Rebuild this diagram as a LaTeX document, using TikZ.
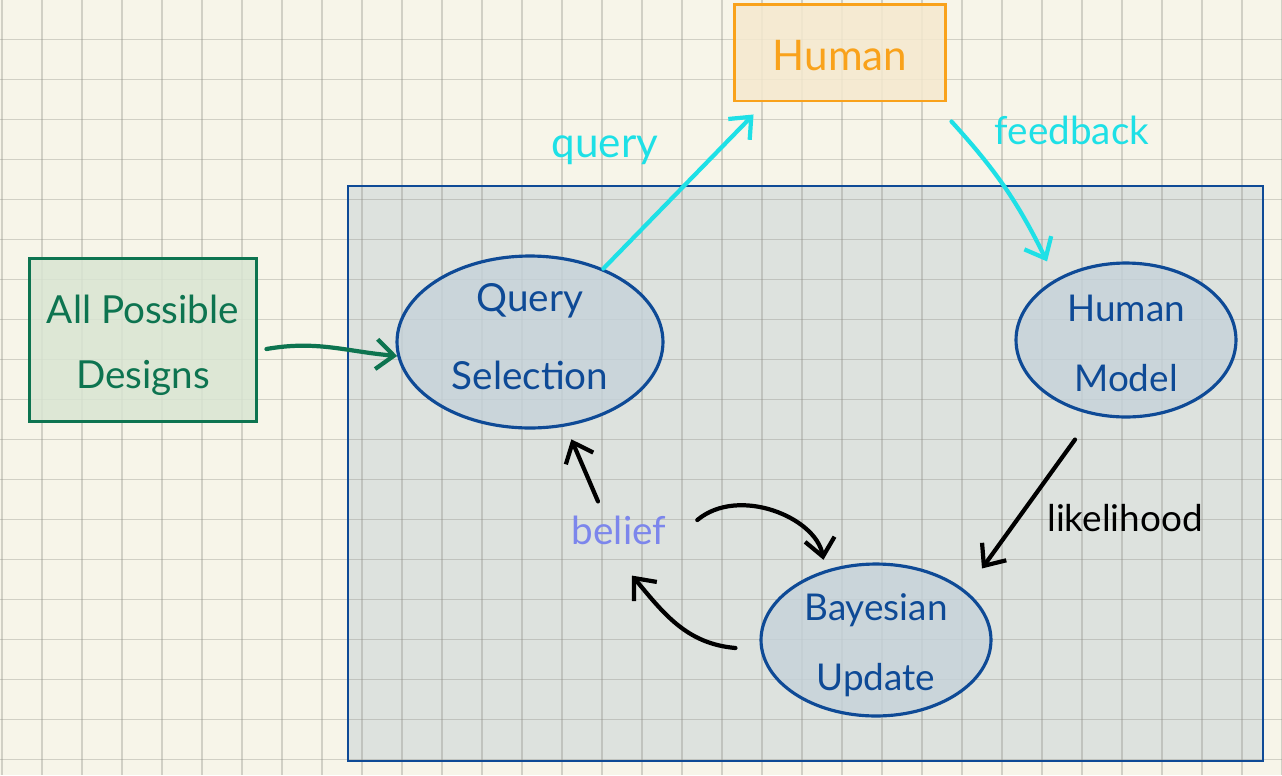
\documentclass[tikz,border=0pt]{standalone}
\usepackage{fontspec}
\setmainfont{Lato}
\usetikzlibrary{arrows.meta,shapes.geometric}
\pgfdeclarelayer{background}
\pgfsetlayers{background,main}
\definecolor{paper}{HTML}{F7F5E9}
\definecolor{gridgray}{HTML}{8C8C84}
\definecolor{panelfill}{HTML}{DDE2DE}
\definecolor{inkblue}{HTML}{0E4A96}
\definecolor{bubblefill}{HTML}{C6D2DA}
\definecolor{orangeink}{HTML}{F9A21B}
\definecolor{orangefill}{HTML}{F5E9CF}
\definecolor{greenink}{HTML}{0D7450}
\definecolor{greenfill}{HTML}{D9E5D2}
\definecolor{cyanink}{HTML}{1EE0E6}
\definecolor{beliefblue}{HTML}{7C86EC}
\tikzstyle{grid line}=[gridgray,line width=0.6pt,opacity=0.35]
\tikzstyle{panel}=[draw=inkblue,line width=1.2pt]
\tikzstyle{bubble}=[ellipse,draw=inkblue,line width=1.8pt,fill=bubblefill,fill opacity=0.8,inner sep=0pt]
\tikzstyle{bubble text}=[text=inkblue,align=center,inner sep=0pt,font=\fontsize{21}{40}\selectfont]
\tikzstyle{box}=[rectangle,line width=1.7pt,inner sep=0pt,fill opacity=0.85]
\tikzstyle{hand label}=[font=\fontsize{22}{26}\selectfont]
\tikzstyle{hand arrow}=[line width=2.4pt,line cap=round,-{Straight Barb[length=10pt,width=17pt,line width=2.4pt]}]

\begin{document}
\begin{tikzpicture}[x=0.02cm,y=-0.02cm]
    \useasboundingbox (0,0) rectangle (1282,775);
    % paper, grid and the model panel
    \begin{pgfonlayer}{background}
    \fill[paper] (0,0) rectangle (1282,775);
    \fill[panelfill] (348,186) rectangle (1263,761);
    \foreach \x in {2,42,...,1282}
        \draw[grid line] (\x,0) -- (\x,775);
    \foreach \y in {39.5,79.5,...,775}
        \draw[grid line] (0,\y) -- (1282,\y);
    \draw[panel] (348,186) rectangle (1263,761);
    \end{pgfonlayer}

    % First the boxes and the bubbles
    \node[box,draw=orangeink,fill=orangefill,minimum width=4.24cm,minimum height=1.94cm,
        label={[text=orangeink,font=\fontsize{24}{28}\selectfont,yshift=-2pt]center:Human}] (human) at (840,52.5) {};
    \node[box,draw=greenink,fill=greenfill,minimum width=4.56cm,minimum height=3.28cm,
        label={[bubble text,text=greenink,font=\fontsize{22}{37}\selectfont,yshift=-3pt]center:{All Possible\\Designs}}] (designs) at (143,340) {};
    \node[bubble,minimum width=5.32cm,minimum height=3.44cm,
        label={[bubble text,font=\fontsize{22}{44}\selectfont,yshift=3pt]center:{Query\\Selection}}] (qsel) at (530,342) {};
    \node[bubble,minimum width=4.4cm,minimum height=3.08cm,
        label={[bubble text,yshift=-2pt]center:{Human\\Model}}] (hmodel) at (1126,340) {};
    \node[bubble,minimum width=4.6cm,minimum height=3.04cm,
        label={[bubble text,yshift=-3pt]center:{Bayesian\\Update}}] (bayes) at (876,640) {};

    % Labels
    \node[hand label,text=beliefblue] (belief) at (619,530) {belief};
    \node[hand label,font=\fontsize{21}{26}\selectfont] (lik) at (1125,518) {likelihood};
    \node[hand label,text=cyanink,font=\fontsize{24}{28}\selectfont] (qlabel) at (605,150) {query};
    \node[hand label,text=cyanink] (fblabel) at (1072,130) {feedback};

    % Connect them
    \draw[hand arrow,cyanink] (qsel.45) -- ([xshift=0.42cm,yshift=-0.24cm]human.south west);
    \draw[hand arrow,cyanink] ([xshift=0.08cm,yshift=-0.38cm]human.south east) to[bend left=8] ([xshift=-1.58cm]hmodel.north);
    \draw[hand arrow,greenink] ([xshift=0.16cm,yshift=-0.18cm]designs.east) to[out=10,in=175] (qsel.186);
    \draw[hand arrow] ([xshift=-1.02cm,yshift=-0.42cm]hmodel.south) -- ([xshift=2.12cm,yshift=-0.12cm]bayes.north);
    \draw[hand arrow,shorten >=8pt] ([xshift=-0.42cm,yshift=0.16cm]belief.north) -- (qsel.293);
    \draw[hand arrow,shorten >=6pt] ([xshift=0.5cm,yshift=0.2cm]belief.east) to[out=40,in=100] (bayes.126);
    \draw[hand arrow] ([xshift=-0.48cm,yshift=-0.16cm]bayes.west) to[out=175,in=-50] ([xshift=0.26cm,yshift=-0.5cm]belief.south);
\end{tikzpicture}
\end{document}
